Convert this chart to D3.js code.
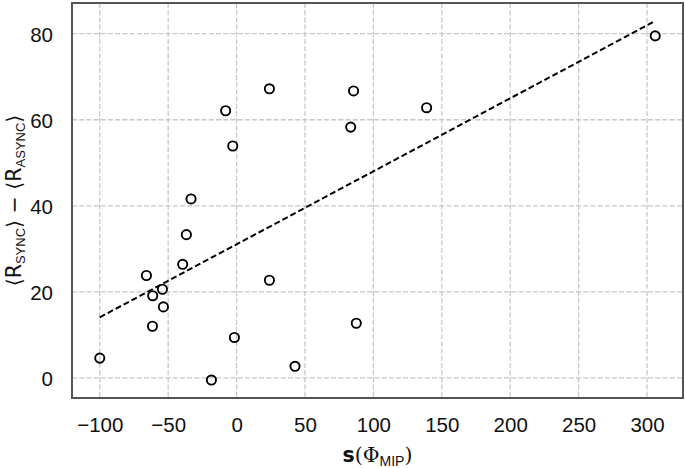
<!DOCTYPE html>
<html>
<head>
<meta charset="utf-8">
<script src="https://cdn.jsdelivr.net/npm/d3@7"></script>
<style>
    body { margin: 0; background: #fff; }
    svg { display: block; font-family: "Liberation Sans", Arial, sans-serif; }
    .grid line { stroke: #c8c8c8; stroke-width: 1.3; stroke-dasharray: 5 2.2; }
    .tick text { font-size: 20.5px; fill: #111; }
</style>
</head>
<body>
<svg id="chart" width="685" height="468"></svg>
<script>
const phiMip = [-100, -65.9, -61.3, -54.2, -53.5, -61.5, -39.4, -36.7, -33.3, -18.4, -8.0,
    -2.8, -1.6, 24.0, 24.0, 42.7, 83.4, 85.5, 87.5, 138.9, 306.0];
const rDiff = [4.6, 23.8, 19.1, 20.6, 16.5, 12.0, 26.4, 33.3, 41.6, -0.5, 62.1,
    53.9, 9.4, 67.2, 22.7, 2.7, 58.3, 66.7, 12.7, 62.8, 79.5];
const xTicks = [-100, -50, 0, 50, 100, 150, 200, 250, 300];
const yTicks = [0, 20, 40, 60, 80];

const margin = { top: 3, right: 2, bottom: 70, left: 72 };
const width = 685, height = 468;

const points = phiMip.map((x, i) => ({ x: x, y: rDiff[i] }));

/**
 * Least squares fit, like the original regression line
 */
function fitLine(pts) {
    const mx = d3.mean(pts, d => d.x);
    const my = d3.mean(pts, d => d.y);
    const sxy = d3.sum(pts, d => (d.x - mx) * (d.y - my));
    const sxx = d3.sum(pts, d => (d.x - mx) * (d.x - mx));
    const slope = sxy / sxx;
    return { slope: slope, intercept: my - slope * mx };
}

const fit = fitLine(points);
const xExt = d3.extent(phiMip);
const fitPts = xExt.map(x => ({ x: x, y: fit.intercept + fit.slope * x }));

// matplotlib style 5% padding
function padded(ext) {
    const p = (ext[1] - ext[0]) * 0.05;
    return [ext[0] - p, ext[1] + p];
}
const yExt = d3.extent(rDiff.concat(fitPts.map(d => d.y)));

const x = d3.scaleLinear()
    .domain(padded(xExt))
    .range([margin.left, width - margin.right]);

const y = d3.scaleLinear()
    .domain(padded(yExt))
    .range([height - margin.bottom, margin.top]);

const svg = d3.select('#chart');

// grid
svg.append('g')
    .attr('class', 'grid')
    .selectAll('line')
    .data(xTicks)
    .join('line')
        .attr('x1', d => x(d))
        .attr('x2', d => x(d))
        .attr('y1', margin.top)
        .attr('y2', height - margin.bottom)

svg.append('g')
    .attr('class', 'grid')
    .selectAll('line')
    .data(yTicks)
    .join('line')
        .attr('x1', margin.left)
        .attr('x2', width - margin.right)
        .attr('y1', d => y(d))
        .attr('y2', d => y(d))

// axes (labels only, no tick marks)
const xAxis = svg.append('g')
    .attr('transform', `translate(0,${height - margin.bottom})`)
    .call(d3.axisBottom(x).tickValues(xTicks).tickSize(0).tickPadding(19)
        .tickFormat(d => d < 0 ? '\u2212' + Math.abs(d) : d))

const yAxis = svg.append('g')
    .attr('transform', `translate(${margin.left},0)`)
    .call(d3.axisLeft(y).tickValues(yTicks).tickSize(0).tickPadding(19))

svg.selectAll('.domain').remove();
yAxis.selectAll('text').attr('dy', '0.36em');

// regression line
svg.append('path')
    .datum(fitPts)
    .attr('fill', 'none')
    .attr('stroke', '#000')
    .attr('stroke-width', 2)
    .attr('stroke-dasharray', '6 3')
    .attr('d', d3.line().x(d => x(d.x)).y(d => y(d.y)))

// points
svg.append('g')
    .selectAll('circle')
    .data(points)
    .join('circle')
        .attr('cx', d => x(d.x))
        .attr('cy', d => y(d.y))
        .attr('r', 4.6)
        .attr('fill', 'none')
        .attr('stroke', '#000')
        .attr('stroke-width', 1.9)

// frame
svg.append('rect')
    .attr('x', margin.left)
    .attr('y', margin.top)
    .attr('width', width - margin.left - margin.right)
    .attr('height', height - margin.top - margin.bottom)
    .attr('fill', 'none')
    .attr('stroke', '#555')
    .attr('stroke-width', 2)

// x label
const xl = svg.append('text')
    .attr('x', (margin.left + width - margin.right) / 2)
    .attr('y', 462)
    .attr('text-anchor', 'middle')
    .style('font-size', '20.5px')
    .style('fill', '#111')
xl.append('tspan').text('s').style('font-weight', 'bold').style('font-family', 'DejaVu Sans');
xl.append('tspan').text('(\u03A6').style('font-family', 'DejaVu Serif');
xl.append('tspan').text('MIP').attr('dy', 4).style('font-size', '14px');
xl.append('tspan').text(')').attr('dy', -4).style('font-family', 'DejaVu Serif');

// y label
const yl = svg.append('text')
    .attr('transform', `translate(21,${(margin.top + height - margin.bottom) / 2}) rotate(-90)`)
    .attr('text-anchor', 'middle')
    .style('font-size', '20.5px')
    .style('fill', '#111')
yl.append('tspan').text('\u27E8R').style('font-family', 'DejaVu Sans');
yl.append('tspan').text('SYNC').attr('dy', 4).style('font-size', '13px');
yl.append('tspan').text('\u27E9 \u2212 \u27E8R').attr('dy', -4).style('font-family', 'DejaVu Sans');
yl.append('tspan').text('ASYNC').attr('dy', 4).style('font-size', '13px');
yl.append('tspan').text('\u27E9').attr('dy', -4).style('font-family', 'DejaVu Sans');
</script>
</body>
</html>
